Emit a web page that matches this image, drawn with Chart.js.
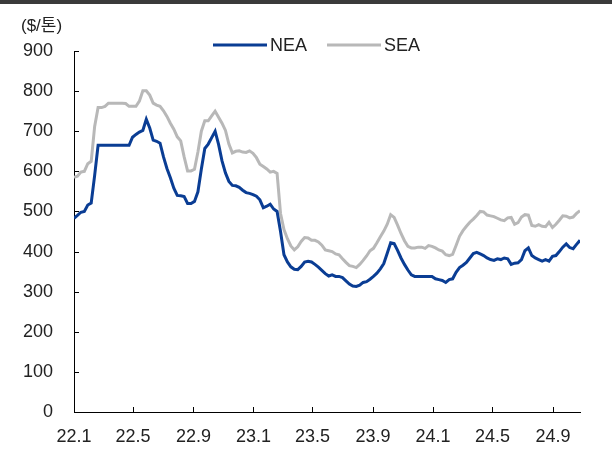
<!DOCTYPE html>
<html>
<head>
<meta charset="utf-8">
<script src="https://cdn.jsdelivr.net/npm/chart.js@4.4.1/dist/chart.umd.min.js"></script>
<style>
  html, body { margin: 0; padding: 0; background: #fff; }
  #wrap { position: relative; width: 612px; height: 453px; }
  #topbar { position: absolute; left: 0; top: 0; width: 612px; height: 4px; background: #3a3a3a; }
</style>
</head>
<body>
<div id="wrap">
  <canvas id="chart" width="612" height="453"></canvas>
  <div id="topbar"></div>
</div>
<script>
// weekly prices, $/ton, first week = 2022-01
const neaValues = [
  483, 490, 498, 500, 516, 521, 590, 665, 665, 665,
  665, 665, 665, 665, 665, 665, 665, 685, 692, 698,
  702, 730, 708, 678, 675, 670, 636, 607, 584, 558,
  540, 539, 537, 520, 520, 525, 549, 606, 657, 668,
  684, 700, 667, 626, 596, 575, 565, 564, 560, 553,
  547, 545, 542, 538, 529, 509, 513, 518, 506, 500,
  450, 392, 374, 362, 356, 355, 363, 374, 376, 374,
  368, 361, 353, 345, 339, 342, 338, 338, 335, 327,
  319, 314, 313, 316, 323, 325, 331, 338, 346, 357,
  370, 396, 422, 420, 403, 384, 368, 354, 342, 338,
  338, 338, 338, 338, 338, 332, 330, 328, 323, 330,
  332, 348, 360, 366, 373, 384, 395, 398, 394, 390,
  384, 380, 378, 382, 380, 384, 382, 368, 371, 372,
  380, 402, 409, 390, 384, 380, 376, 380, 376, 388,
  390, 400, 411, 419, 410, 407, 418, 428
];
const seaValues = [
  585, 588, 598, 600, 619, 625, 712, 759, 759, 762,
  770, 770, 770, 770, 770, 769, 762, 762, 762, 775,
  801, 801, 790, 770, 765, 762, 751, 737, 720, 705,
  686, 676, 636, 601, 601, 605, 648, 700, 726, 726,
  738, 750, 735, 720, 702, 668, 646, 650, 651, 648,
  647, 651, 645, 634, 618, 612, 606, 598, 600, 595,
  495, 455, 432, 414, 404, 412, 425, 435, 434, 428,
  428, 424, 416, 404, 402, 400, 394, 392, 382, 373,
  365, 363, 360, 368, 378, 389, 402, 408, 422, 437,
  451, 468, 492, 485, 466, 445, 427, 413, 409, 409,
  411, 411, 408, 415, 413, 409, 404, 401, 392, 390,
  393, 415, 438, 452, 463, 473, 481, 490, 500, 499,
  491, 489, 487, 483, 479, 477, 484, 485, 468, 472,
  486, 492, 491, 465, 463, 467, 463, 462, 473, 460,
  468, 478, 489, 488, 484, 486, 495, 502
];
// tick positions in days since 2022-01-01
const tickDays = [0, 120, 243, 365, 485, 608, 730, 851, 974];
const tickLabels = ['22.1', '22.5', '22.9', '23.1', '23.5', '23.9', '24.1', '24.5', '24.9'];
const seriesNames = ['NEA', 'SEA'];

const FONT = "'Liberation Sans', 'Noto Sans CJK KR', sans-serif";
const TEXT = '#222';

function toPoints(values) {
  return values.map((v, i) => ({ x: i * 7, y: v }));
}

// inward tick marks, unit label and legend
const extras = {
  id: 'extras',
  afterDraw(chart) {
    const { ctx, chartArea, scales } = chart;
    ctx.save();
    ctx.strokeStyle = '#000';
    ctx.lineWidth = 1;
    ctx.beginPath();
    scales.x.ticks.forEach(t => {
      const px = Math.round(scales.x.getPixelForValue(t.value)) + 0.5;
      ctx.moveTo(px, chartArea.bottom);
      ctx.lineTo(px, chartArea.bottom - 5);
    });
    scales.y.ticks.forEach(t => {
      const py = Math.round(scales.y.getPixelForValue(t.value)) + 0.5;
      ctx.moveTo(chartArea.left, py);
      ctx.lineTo(chartArea.left + 5, py);
    });
    ctx.stroke();

    ctx.fillStyle = TEXT;
    ctx.font = '17px ' + FONT;
    ctx.textBaseline = 'middle';
    ctx.textAlign = 'left';
    ctx.fillText('($/톤)', 21, 26);

    ctx.font = '18px ' + FONT;
    let x = 213;
    const y = 45;
    chart.data.datasets.forEach(ds => {
      ctx.strokeStyle = ds.borderColor;
      ctx.lineWidth = 3;
      ctx.beginPath();
      ctx.moveTo(x, y);
      ctx.lineTo(x + 54, y);
      ctx.stroke();
      ctx.fillStyle = TEXT;
      ctx.fillText(ds.label, x + 57, y + 1);
      x += 57 + ctx.measureText(ds.label).width + 20;
    });
    ctx.restore();
  }
};

new Chart(document.getElementById('chart'), {
  type: 'line',
  data: {
    datasets: [
      {
        label: seriesNames[0],
        data: toPoints(neaValues),
        borderColor: '#0a3d94',
        backgroundColor: '#0a3d94',
        borderWidth: 3,
        pointRadius: 0,
        tension: 0
      },
      {
        label: seriesNames[1],
        data: toPoints(seaValues),
        borderColor: '#b8b8b8',
        backgroundColor: '#b8b8b8',
        borderWidth: 3,
        pointRadius: 0,
        tension: 0,
        order: 1
      }
    ]
  },
  options: {
    responsive: false,
    animation: false,
    layout: { padding: { left: 0, right: 32, top: 51, bottom: 0 } },
    plugins: {
      legend: { display: false },
      tooltip: { enabled: false }
    },
    scales: {
      x: {
        type: 'linear',
        min: 0,
        max: 1029,
        afterBuildTicks: scale => {
          scale.ticks = tickDays.map(v => ({ value: v }));
        },
        afterFit: scale => { scale.height = 41; },
        ticks: {
          autoSkip: false,
          maxRotation: 0,
          padding: 14,
          color: TEXT,
          font: { family: FONT, size: 18 },
          callback: (val, index) => tickLabels[index]
        },
        grid: { display: false, drawTicks: false },
        border: { display: true, color: '#000', width: 1 }
      },
      y: {
        min: 0,
        max: 900,
        afterFit: scale => { scale.width = 74; },
        ticks: {
          stepSize: 100,
          padding: 21,
          color: TEXT,
          font: { family: FONT, size: 18 }
        },
        grid: { display: false, drawTicks: false },
        border: { display: true, color: '#000', width: 1 }
      }
    }
  },
  plugins: [extras]
});
</script>
</body>
</html>
